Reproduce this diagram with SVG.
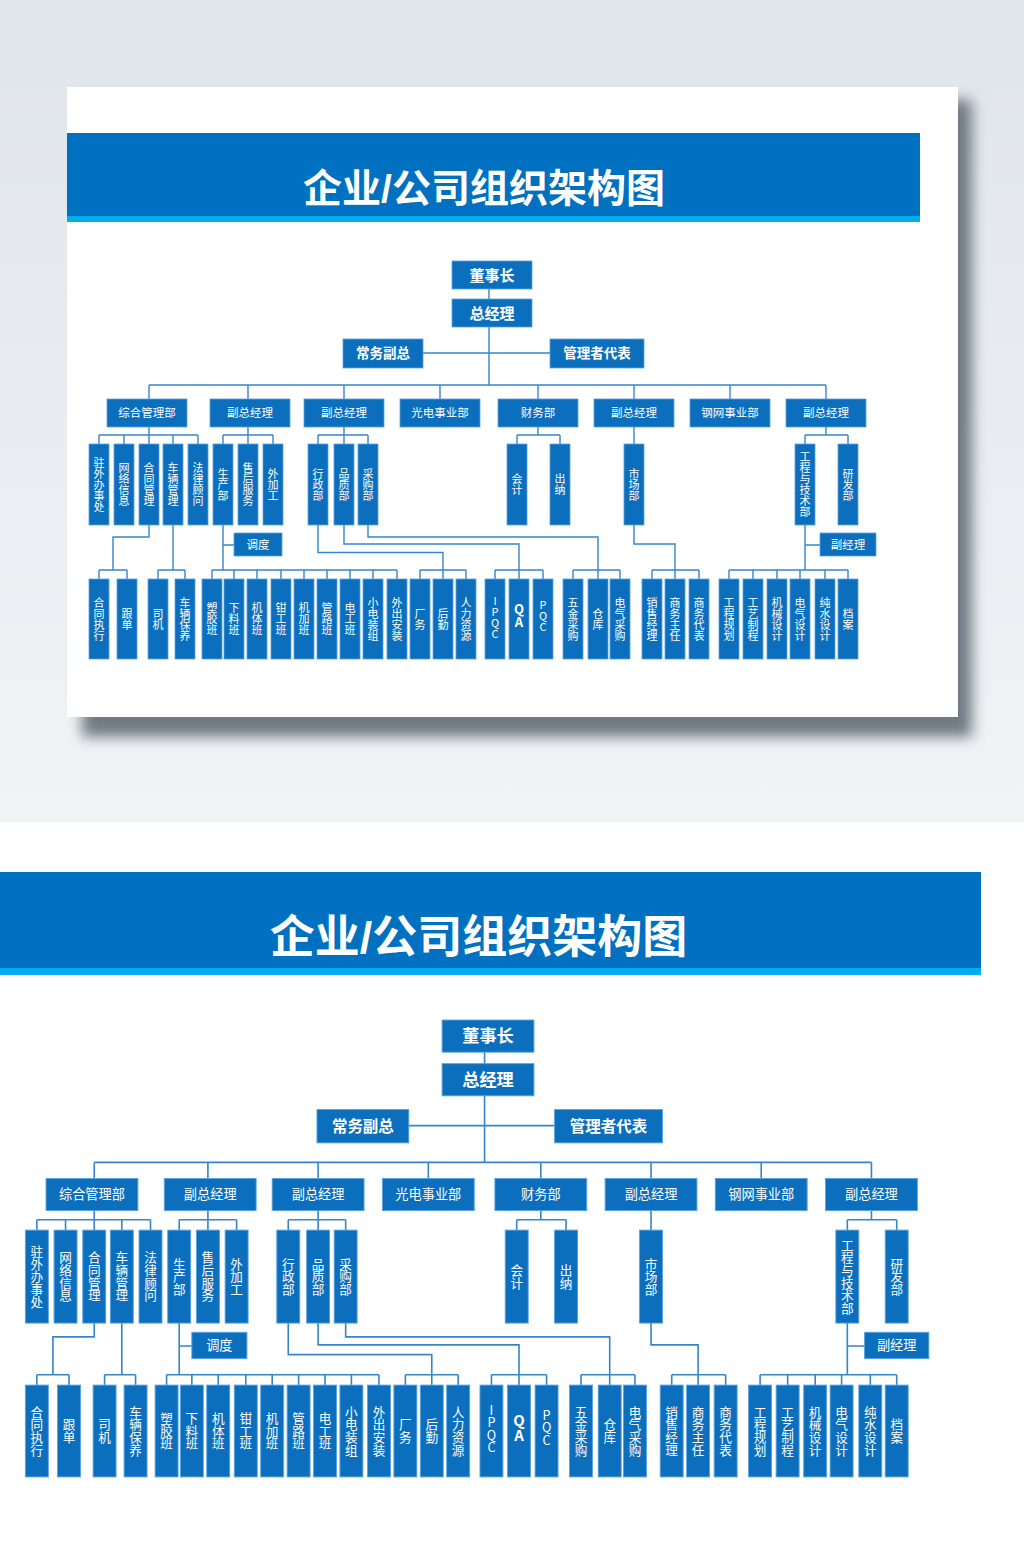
<svg xmlns="http://www.w3.org/2000/svg" width="1024" height="1542" viewBox="0 0 1024 1542">
<defs>
<linearGradient id="bg" x1="0" y1="0" x2="0" y2="1"><stop offset="0" stop-color="#e0e5eb"/><stop offset="1" stop-color="#f1f3f6"/></linearGradient>
<filter id="sh" x="-10%" y="-10%" width="120%" height="130%"><feGaussianBlur stdDeviation="7"/></filter>
<style>
.bx{fill:#0b6fbd;stroke:#5aa2e0;stroke-width:0.8}
.cn{fill:none;stroke:#3585c9;stroke-width:1.4}
.t1,.t2,.t3,.tt{font-family:"Liberation Sans","Noto Sans CJK SC",sans-serif;fill:#fff;text-anchor:middle;dominant-baseline:central}
.v{font-family:"Noto Sans CJK SC","Liberation Sans",sans-serif;fill:#fff;text-anchor:middle;dominant-baseline:central;font-size:11px;writing-mode:vertical-rl;text-orientation:upright}
.t1{font-size:15px;font-weight:bold}
.t2{font-size:13.5px;font-weight:bold}
.t3{font-size:11.5px}
.vb{font-size:13px;font-weight:bold}
.tt{font-weight:bold}
</style>
</defs>
<rect x="0" y="0" width="1024" height="822" fill="url(#bg)"/>
<rect x="0" y="822" width="1024" height="720" fill="#ffffff"/>
<rect x="82" y="100" width="890" height="637" fill="#6f7a84" filter="url(#sh)"/>
<rect id="card" x="67" y="87" width="891" height="630" fill="#ffffff"/>
<g id="a-banner"><rect x="67" y="133" width="853" height="83" fill="#0070c0"/><rect x="67" y="216" width="853" height="6" fill="#00aeef"/><text class="tt" x="484" y="188.5" font-size="39">企业/公司组织架构图</text></g>
<g id="b-banner"><rect x="0" y="872" width="981" height="96" fill="#0070c0"/><rect x="0" y="968" width="981" height="7" fill="#00aeef"/><text class="tt" x="478.5" y="937" font-size="45">企业/公司组织架构图</text></g>

<g id="a-chart">
<g id="a-connectors" class="cn">
<path d="M489,289V299M489,327V385M423,353H550M149,385H826M149,385V399M248,385V399M344,385V399M440,385V399M538,385V399M634,385V399M730,385V399M826,385V399"/>
<path d="M149,427V435M99,435H198M99,435V444M124,435V444M149,435V444M173,435V444M198,435V444"/>
<path d="M248,427V435M223,435H273M223,435V444M248,435V444M273,435V444"/>
<path d="M344,427V435M318,435H368M318,435V444M344,435V444M368,435V444"/>
<path d="M538,427V435M517,435H560M517,435V444M560,435V444"/>
<path d="M634,427V444"/>
<path d="M826,427V435M805,435H848M805,435V444M848,435V444"/>
<path d="M149,525V537H113V570M99,570H127M99,570V579M127,570V579"/>
<path d="M173,525V570M158,570H185M158,570V579M185,570V579"/>
<path d="M223,525V570M223,545H234M212,570H397M212,570V579M234,570V579M257,570V579M281,570V579M304,570V579M327,570V579M350,570V579M373,570V579M397,570V579"/>
<path d="M318,525V552.5H443V570M420,570H466M420,570V579M443,570V579M466,570V579"/>
<path d="M344,525V544H519V570M495,570H543M495,570V579M519,570V579M543,570V579"/>
<path d="M368,525V537H598V570M573,570H620M573,570V579M598,570V579M620,570V579"/>
<path d="M634,525V544H675V570M652,570H699M652,570V579M675,570V579M699,570V579"/>
<path d="M805,525V570M805,545H820M729,570H848M729,570V579M753,570V579M777,570V579M800,570V579M825,570V579M848,570V579"/>
</g>
<g id="a-dongshizhang"><rect class="bx" x="452" y="261" width="80" height="28"/><text class="t1" x="492" y="275">董事长</text></g>
<g id="a-zongjingli"><rect class="bx" x="452" y="299" width="80" height="28"/><text class="t1" x="492" y="313">总经理</text></g>
<g id="a-changwufuzong"><rect class="bx" x="343" y="339" width="80" height="29"/><text class="t2" x="383" y="353.5">常务副总</text></g>
<g id="a-guanlizhedaibiao"><rect class="bx" x="550" y="339" width="94" height="29"/><text class="t2" x="597" y="353.5">管理者代表</text></g>
<g id="a-zonghe"><rect class="bx" x="107" y="399" width="80" height="28"/><text class="t3" x="147" y="413">综合管理部</text></g>
<g id="a-fz1"><rect class="bx" x="210" y="399" width="80" height="28"/><text class="t3" x="250" y="413">副总经理</text></g>
<g id="a-fz2"><rect class="bx" x="304" y="399" width="80" height="28"/><text class="t3" x="344" y="413">副总经理</text></g>
<g id="a-guangdian"><rect class="bx" x="400" y="399" width="80" height="28"/><text class="t3" x="440" y="413">光电事业部</text></g>
<g id="a-caiwu"><rect class="bx" x="498" y="399" width="80" height="28"/><text class="t3" x="538" y="413">财务部</text></g>
<g id="a-fz3"><rect class="bx" x="594" y="399" width="80" height="28"/><text class="t3" x="634" y="413">副总经理</text></g>
<g id="a-gangwang"><rect class="bx" x="690" y="399" width="80" height="28"/><text class="t3" x="730" y="413">钢网事业部</text></g>
<g id="a-fz4"><rect class="bx" x="786" y="399" width="80" height="28"/><text class="t3" x="826" y="413">副总经理</text></g>
<g id="a-zhuwai"><rect class="bx" x="89" y="444" width="20" height="81"/><text class="v" x="99" y="484.5">驻外办事处</text></g>
<g id="a-wangluo"><rect class="bx" x="114" y="444" width="20" height="81"/><text class="v" x="124" y="484.5">网络信息</text></g>
<g id="a-hetong"><rect class="bx" x="139" y="444" width="20" height="81"/><text class="v" x="149" y="484.5">合同管理</text></g>
<g id="a-cheliang"><rect class="bx" x="163" y="444" width="20" height="81"/><text class="v" x="173" y="484.5">车辆管理</text></g>
<g id="a-falv"><rect class="bx" x="188" y="444" width="20" height="81"/><text class="v" x="198" y="484.5">法律顾问</text></g>
<g id="a-shengchan"><rect class="bx" x="213" y="444" width="20" height="81"/><text class="v" x="223" y="484.5">生产部</text></g>
<g id="a-shouhou"><rect class="bx" x="238" y="444" width="20" height="81"/><text class="v" x="248" y="484.5">售后服务</text></g>
<g id="a-waijiagong"><rect class="bx" x="263" y="444" width="20" height="81"/><text class="v" x="273" y="484.5">外加工</text></g>
<g id="a-xingzheng"><rect class="bx" x="308" y="444" width="20" height="81"/><text class="v" x="318" y="484.5">行政部</text></g>
<g id="a-pinzhi"><rect class="bx" x="334" y="444" width="20" height="81"/><text class="v" x="344" y="484.5">品质部</text></g>
<g id="a-caigou"><rect class="bx" x="358" y="444" width="20" height="81"/><text class="v" x="368" y="484.5">采购部</text></g>
<g id="a-kuaiji"><rect class="bx" x="507" y="444" width="20" height="81"/><text class="v" x="517" y="484.5">会计</text></g>
<g id="a-chuna"><rect class="bx" x="550" y="444" width="20" height="81"/><text class="v" x="560" y="484.5">出纳</text></g>
<g id="a-shichang"><rect class="bx" x="624" y="444" width="20" height="81"/><text class="v" x="634" y="484.5">市场部</text></g>
<g id="a-gongcheng"><rect class="bx" x="795" y="444" width="20" height="81"/><text class="v" x="805" y="484.5">工程与技术部</text></g>
<g id="a-yanfa"><rect class="bx" x="838" y="444" width="20" height="81"/><text class="v" x="848" y="484.5">研发部</text></g>
<g id="a-diaodu"><rect class="bx" x="234" y="533" width="48" height="23"/><text class="t3" x="258" y="544.5">调度</text></g>
<g id="a-fujingli"><rect class="bx" x="820" y="533" width="56" height="23"/><text class="t3" x="848" y="544.5">副经理</text></g>
<g id="a-htzx"><rect class="bx" x="89" y="579" width="20" height="80"/><text class="v" x="99" y="619">合同执行</text></g>
<g id="a-gendan"><rect class="bx" x="117" y="579" width="20" height="80"/><text class="v" x="127" y="619">跟单</text></g>
<g id="a-siji"><rect class="bx" x="148" y="579" width="20" height="80"/><text class="v" x="158" y="619">司机</text></g>
<g id="a-clby"><rect class="bx" x="175" y="579" width="20" height="80"/><text class="v" x="185" y="619">车辆保养</text></g>
<g id="a-sujiao"><rect class="bx" x="202" y="579" width="20" height="80"/><text class="v" x="212" y="619">塑胶班</text></g>
<g id="a-xialiao"><rect class="bx" x="224" y="579" width="20" height="80"/><text class="v" x="234" y="619">下料班</text></g>
<g id="a-jiti"><rect class="bx" x="247" y="579" width="20" height="80"/><text class="v" x="257" y="619">机体班</text></g>
<g id="a-qiangong"><rect class="bx" x="271" y="579" width="20" height="80"/><text class="v" x="281" y="619">钳工班</text></g>
<g id="a-jijia"><rect class="bx" x="294" y="579" width="20" height="80"/><text class="v" x="304" y="619">机加班</text></g>
<g id="a-guanlu"><rect class="bx" x="317" y="579" width="20" height="80"/><text class="v" x="327" y="619">管路班</text></g>
<g id="a-diangong"><rect class="bx" x="340" y="579" width="20" height="80"/><text class="v" x="350" y="619">电工班</text></g>
<g id="a-xiaodian"><rect class="bx" x="363" y="579" width="20" height="80"/><text class="v" x="373" y="619">小电装组</text></g>
<g id="a-waichu"><rect class="bx" x="387" y="579" width="20" height="80"/><text class="v" x="397" y="619">外出安装</text></g>
<g id="a-changwu"><rect class="bx" x="410" y="579" width="20" height="80"/><text class="v" x="420" y="619">厂务</text></g>
<g id="a-houqin"><rect class="bx" x="433" y="579" width="20" height="80"/><text class="v" x="443" y="619">后勤</text></g>
<g id="a-renli"><rect class="bx" x="456" y="579" width="20" height="80"/><text class="v" x="466" y="619">人力资源</text></g>
<g id="a-ipqc"><rect class="bx" x="485" y="579" width="20" height="80"/><text class="v" x="495" y="617">IPQC</text></g>
<g id="a-qa"><rect class="bx" x="509" y="579" width="20" height="80"/><text class="v vb" x="519" y="616">QA</text></g>
<g id="a-pqc"><rect class="bx" x="533" y="579" width="20" height="80"/><text class="v" x="543" y="616">PQC</text></g>
<g id="a-wujin"><rect class="bx" x="563" y="579" width="20" height="80"/><text class="v" x="573" y="619">五金采购</text></g>
<g id="a-cangku"><rect class="bx" x="588" y="579" width="20" height="80"/><text class="v" x="598" y="619">仓库</text></g>
<g id="a-dianqicg"><rect class="bx" x="610" y="579" width="20" height="80"/><text class="v" x="620" y="619">电气采购</text></g>
<g id="a-xiaoshou"><rect class="bx" x="642" y="579" width="20" height="80"/><text class="v" x="652" y="619">销售经理</text></g>
<g id="a-swzr"><rect class="bx" x="665" y="579" width="20" height="80"/><text class="v" x="675" y="619">商务主任</text></g>
<g id="a-swdb"><rect class="bx" x="689" y="579" width="20" height="80"/><text class="v" x="699" y="619">商务代表</text></g>
<g id="a-gcgh"><rect class="bx" x="719" y="579" width="20" height="80"/><text class="v" x="729" y="619">工程规划</text></g>
<g id="a-gyzc"><rect class="bx" x="743" y="579" width="20" height="80"/><text class="v" x="753" y="619">工艺制程</text></g>
<g id="a-jxsj"><rect class="bx" x="767" y="579" width="20" height="80"/><text class="v" x="777" y="619">机械设计</text></g>
<g id="a-dqsj"><rect class="bx" x="790" y="579" width="20" height="80"/><text class="v" x="800" y="619">电气设计</text></g>
<g id="a-csj"><rect class="bx" x="815" y="579" width="20" height="80"/><text class="v" x="825" y="619">纯水设计</text></g>
<g id="a-dangan"><rect class="bx" x="838" y="579" width="20" height="80"/><text class="v" x="848" y="619">档案</text></g>
</g>

<g id="b-chart" transform="matrix(1.148 0 0 1.148 -76.8 720.4)">
<g id="b-connectors" class="cn">
<path d="M489,289V299M489,327V385M423,353H550M149,385H826M149,385V399M248,385V399M344,385V399M440,385V399M538,385V399M634,385V399M730,385V399M826,385V399"/>
<path d="M149,427V435M99,435H198M99,435V444M124,435V444M149,435V444M173,435V444M198,435V444"/>
<path d="M248,427V435M223,435H273M223,435V444M248,435V444M273,435V444"/>
<path d="M344,427V435M318,435H368M318,435V444M344,435V444M368,435V444"/>
<path d="M538,427V435M517,435H560M517,435V444M560,435V444"/>
<path d="M634,427V444"/>
<path d="M826,427V435M805,435H848M805,435V444M848,435V444"/>
<path d="M149,525V537H113V570M99,570H127M99,570V579M127,570V579"/>
<path d="M173,525V570M158,570H185M158,570V579M185,570V579"/>
<path d="M223,525V570M223,545H234M212,570H397M212,570V579M234,570V579M257,570V579M281,570V579M304,570V579M327,570V579M350,570V579M373,570V579M397,570V579"/>
<path d="M318,525V552.5H443V570M420,570H466M420,570V579M443,570V579M466,570V579"/>
<path d="M344,525V544H519V570M495,570H543M495,570V579M519,570V579M543,570V579"/>
<path d="M368,525V537H598V570M573,570H620M573,570V579M598,570V579M620,570V579"/>
<path d="M634,525V544H675V570M652,570H699M652,570V579M675,570V579M699,570V579"/>
<path d="M805,525V570M805,545H820M729,570H848M729,570V579M753,570V579M777,570V579M800,570V579M825,570V579M848,570V579"/>
</g>
<g id="b-dongshizhang"><rect class="bx" x="452" y="261" width="80" height="28"/><text class="t1" x="492" y="275">董事长</text></g>
<g id="b-zongjingli"><rect class="bx" x="452" y="299" width="80" height="28"/><text class="t1" x="492" y="313">总经理</text></g>
<g id="b-changwufuzong"><rect class="bx" x="343" y="339" width="80" height="29"/><text class="t2" x="383" y="353.5">常务副总</text></g>
<g id="b-guanlizhedaibiao"><rect class="bx" x="550" y="339" width="94" height="29"/><text class="t2" x="597" y="353.5">管理者代表</text></g>
<g id="b-zonghe"><rect class="bx" x="107" y="399" width="80" height="28"/><text class="t3" x="147" y="413">综合管理部</text></g>
<g id="b-fz1"><rect class="bx" x="210" y="399" width="80" height="28"/><text class="t3" x="250" y="413">副总经理</text></g>
<g id="b-fz2"><rect class="bx" x="304" y="399" width="80" height="28"/><text class="t3" x="344" y="413">副总经理</text></g>
<g id="b-guangdian"><rect class="bx" x="400" y="399" width="80" height="28"/><text class="t3" x="440" y="413">光电事业部</text></g>
<g id="b-caiwu"><rect class="bx" x="498" y="399" width="80" height="28"/><text class="t3" x="538" y="413">财务部</text></g>
<g id="b-fz3"><rect class="bx" x="594" y="399" width="80" height="28"/><text class="t3" x="634" y="413">副总经理</text></g>
<g id="b-gangwang"><rect class="bx" x="690" y="399" width="80" height="28"/><text class="t3" x="730" y="413">钢网事业部</text></g>
<g id="b-fz4"><rect class="bx" x="786" y="399" width="80" height="28"/><text class="t3" x="826" y="413">副总经理</text></g>
<g id="b-zhuwai"><rect class="bx" x="89" y="444" width="20" height="81"/><text class="v" x="99" y="484.5">驻外办事处</text></g>
<g id="b-wangluo"><rect class="bx" x="114" y="444" width="20" height="81"/><text class="v" x="124" y="484.5">网络信息</text></g>
<g id="b-hetong"><rect class="bx" x="139" y="444" width="20" height="81"/><text class="v" x="149" y="484.5">合同管理</text></g>
<g id="b-cheliang"><rect class="bx" x="163" y="444" width="20" height="81"/><text class="v" x="173" y="484.5">车辆管理</text></g>
<g id="b-falv"><rect class="bx" x="188" y="444" width="20" height="81"/><text class="v" x="198" y="484.5">法律顾问</text></g>
<g id="b-shengchan"><rect class="bx" x="213" y="444" width="20" height="81"/><text class="v" x="223" y="484.5">生产部</text></g>
<g id="b-shouhou"><rect class="bx" x="238" y="444" width="20" height="81"/><text class="v" x="248" y="484.5">售后服务</text></g>
<g id="b-waijiagong"><rect class="bx" x="263" y="444" width="20" height="81"/><text class="v" x="273" y="484.5">外加工</text></g>
<g id="b-xingzheng"><rect class="bx" x="308" y="444" width="20" height="81"/><text class="v" x="318" y="484.5">行政部</text></g>
<g id="b-pinzhi"><rect class="bx" x="334" y="444" width="20" height="81"/><text class="v" x="344" y="484.5">品质部</text></g>
<g id="b-caigou"><rect class="bx" x="358" y="444" width="20" height="81"/><text class="v" x="368" y="484.5">采购部</text></g>
<g id="b-kuaiji"><rect class="bx" x="507" y="444" width="20" height="81"/><text class="v" x="517" y="484.5">会计</text></g>
<g id="b-chuna"><rect class="bx" x="550" y="444" width="20" height="81"/><text class="v" x="560" y="484.5">出纳</text></g>
<g id="b-shichang"><rect class="bx" x="624" y="444" width="20" height="81"/><text class="v" x="634" y="484.5">市场部</text></g>
<g id="b-gongcheng"><rect class="bx" x="795" y="444" width="20" height="81"/><text class="v" x="805" y="484.5">工程与技术部</text></g>
<g id="b-yanfa"><rect class="bx" x="838" y="444" width="20" height="81"/><text class="v" x="848" y="484.5">研发部</text></g>
<g id="b-diaodu"><rect class="bx" x="234" y="533" width="48" height="23"/><text class="t3" x="258" y="544.5">调度</text></g>
<g id="b-fujingli"><rect class="bx" x="820" y="533" width="56" height="23"/><text class="t3" x="848" y="544.5">副经理</text></g>
<g id="b-htzx"><rect class="bx" x="89" y="579" width="20" height="80"/><text class="v" x="99" y="619">合同执行</text></g>
<g id="b-gendan"><rect class="bx" x="117" y="579" width="20" height="80"/><text class="v" x="127" y="619">跟单</text></g>
<g id="b-siji"><rect class="bx" x="148" y="579" width="20" height="80"/><text class="v" x="158" y="619">司机</text></g>
<g id="b-clby"><rect class="bx" x="175" y="579" width="20" height="80"/><text class="v" x="185" y="619">车辆保养</text></g>
<g id="b-sujiao"><rect class="bx" x="202" y="579" width="20" height="80"/><text class="v" x="212" y="619">塑胶班</text></g>
<g id="b-xialiao"><rect class="bx" x="224" y="579" width="20" height="80"/><text class="v" x="234" y="619">下料班</text></g>
<g id="b-jiti"><rect class="bx" x="247" y="579" width="20" height="80"/><text class="v" x="257" y="619">机体班</text></g>
<g id="b-qiangong"><rect class="bx" x="271" y="579" width="20" height="80"/><text class="v" x="281" y="619">钳工班</text></g>
<g id="b-jijia"><rect class="bx" x="294" y="579" width="20" height="80"/><text class="v" x="304" y="619">机加班</text></g>
<g id="b-guanlu"><rect class="bx" x="317" y="579" width="20" height="80"/><text class="v" x="327" y="619">管路班</text></g>
<g id="b-diangong"><rect class="bx" x="340" y="579" width="20" height="80"/><text class="v" x="350" y="619">电工班</text></g>
<g id="b-xiaodian"><rect class="bx" x="363" y="579" width="20" height="80"/><text class="v" x="373" y="619">小电装组</text></g>
<g id="b-waichu"><rect class="bx" x="387" y="579" width="20" height="80"/><text class="v" x="397" y="619">外出安装</text></g>
<g id="b-changwu"><rect class="bx" x="410" y="579" width="20" height="80"/><text class="v" x="420" y="619">厂务</text></g>
<g id="b-houqin"><rect class="bx" x="433" y="579" width="20" height="80"/><text class="v" x="443" y="619">后勤</text></g>
<g id="b-renli"><rect class="bx" x="456" y="579" width="20" height="80"/><text class="v" x="466" y="619">人力资源</text></g>
<g id="b-ipqc"><rect class="bx" x="485" y="579" width="20" height="80"/><text class="v" x="495" y="617">IPQC</text></g>
<g id="b-qa"><rect class="bx" x="509" y="579" width="20" height="80"/><text class="v vb" x="519" y="616">QA</text></g>
<g id="b-pqc"><rect class="bx" x="533" y="579" width="20" height="80"/><text class="v" x="543" y="616">PQC</text></g>
<g id="b-wujin"><rect class="bx" x="563" y="579" width="20" height="80"/><text class="v" x="573" y="619">五金采购</text></g>
<g id="b-cangku"><rect class="bx" x="588" y="579" width="20" height="80"/><text class="v" x="598" y="619">仓库</text></g>
<g id="b-dianqicg"><rect class="bx" x="610" y="579" width="20" height="80"/><text class="v" x="620" y="619">电气采购</text></g>
<g id="b-xiaoshou"><rect class="bx" x="642" y="579" width="20" height="80"/><text class="v" x="652" y="619">销售经理</text></g>
<g id="b-swzr"><rect class="bx" x="665" y="579" width="20" height="80"/><text class="v" x="675" y="619">商务主任</text></g>
<g id="b-swdb"><rect class="bx" x="689" y="579" width="20" height="80"/><text class="v" x="699" y="619">商务代表</text></g>
<g id="b-gcgh"><rect class="bx" x="719" y="579" width="20" height="80"/><text class="v" x="729" y="619">工程规划</text></g>
<g id="b-gyzc"><rect class="bx" x="743" y="579" width="20" height="80"/><text class="v" x="753" y="619">工艺制程</text></g>
<g id="b-jxsj"><rect class="bx" x="767" y="579" width="20" height="80"/><text class="v" x="777" y="619">机械设计</text></g>
<g id="b-dqsj"><rect class="bx" x="790" y="579" width="20" height="80"/><text class="v" x="800" y="619">电气设计</text></g>
<g id="b-csj"><rect class="bx" x="815" y="579" width="20" height="80"/><text class="v" x="825" y="619">纯水设计</text></g>
<g id="b-dangan"><rect class="bx" x="838" y="579" width="20" height="80"/><text class="v" x="848" y="619">档案</text></g>
</g>
</svg>
